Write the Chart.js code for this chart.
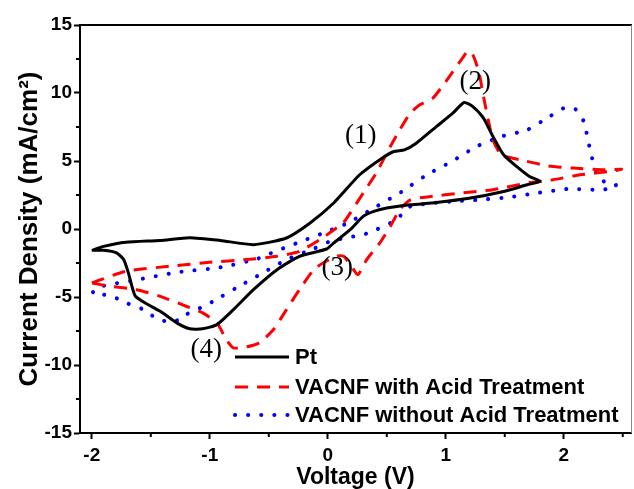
<!DOCTYPE html>
<html>
<head>
<meta charset="utf-8">
<script src="https://cdn.jsdelivr.net/npm/chart.js@4.4.1/dist/chart.umd.min.js"></script>
<style>
  html, body { margin: 0; padding: 0; background: #ffffff; }
  #wrap { width: 634px; height: 489px; }
</style>
</head>
<body>
<div id="wrap"><canvas id="c" width="634" height="489"></canvas></div>
<script>
// ---- Data (Voltage in V, Current density in mA/cm²) ----
const seriesNames = ['Pt', 'VACNF with Acid Treatment', 'VACNF without Acid Treatment'];

const ptV = [-2.0, -1.9, -1.71, -1.42, -1.17, -0.91, -0.63, -0.35, -0.15, 0.05, 0.27, 0.46, 0.56, 0.65, 0.75, 0.92, 1.06, 1.155, 1.23, 1.32, 1.40, 1.49, 1.60, 1.71, 1.80, 1.69, 1.49, 1.21, 0.92, 0.70, 0.50, 0.39, 0.30, 0.19, 0.05, -0.01, -0.24, -0.43, -0.63, -0.80, -0.94, -1.06, -1.17, -1.28, -1.42, -1.54, -1.63, -1.66, -1.69, -1.73, -1.79, -1.90, -2.0];
const ptJ = [-1.57, -1.28, -0.98, -0.84, -0.64, -0.84, -1.15, -0.66, 0.44, 1.91, 3.99, 5.21, 5.7, 5.82, 6.31, 7.53, 8.52, 9.3, 9.0, 8.15, 6.8, 5.46, 4.6, 3.86, 3.5, 3.25, 2.76, 2.28, 1.95, 1.78, 1.54, 1.29, 0.93, -0.05, -1.03, -1.47, -2.01, -2.99, -4.46, -5.93, -7.03, -7.34, -7.34, -6.9, -6.05, -5.48, -4.95, -4.21, -3.23, -2.25, -1.76, -1.57, -1.57];

const acidV = [-2.0, -1.71, -1.34, -1.0, -0.69, -0.43, -0.24, -0.07, 0.13, 0.19, 0.30, 0.41, 0.53, 0.61, 0.70, 0.78, 0.89, 0.98, 1.06, 1.14, 1.19, 1.23, 1.28, 1.32, 1.36, 1.40, 1.47, 1.63, 1.86, 2.08, 2.34, 2.49, 2.39, 2.14, 1.91, 1.69, 1.40, 1.12, 0.87, 0.70, 0.61, 0.53, 0.44, 0.33, 0.255, 0.20, 0.135, 0.07, -0.04, -0.12, -0.24, -0.35, -0.46, -0.58, -0.69, -0.80, -0.86, -0.94, -1.06, -1.20, -1.42, -1.62, -1.85, -2.0];
const acidJ = [-3.96, -3.11, -2.74, -2.45, -2.25, -2.01, -1.64, -0.79, 0.44, 1.17, 2.64, 4.11, 6.06, 7.29, 8.52, 9.13, 9.62, 10.6, 11.57, 12.55, 13.1, 12.8, 11.57, 9.74, 8.02, 6.56, 5.46, 5.09, 4.65, 4.48, 4.35, 4.4, 4.23, 3.99, 3.62, 3.38, 2.89, 2.64, 2.39, 2.15, 1.42, 0.19, -1.03, -2.25, -3.36, -2.74, -2.0, -2.0, -2.5, -2.99, -4.46, -5.93, -7.39, -8.37, -8.67, -8.74, -8.13, -6.9, -6.17, -5.68, -4.95, -4.46, -4.21, -3.96];

const noAcidV = [-1.99, -1.91, -1.64, -1.28, -0.91, -0.6, -0.49, -0.26, -0.04, 0.17, 0.39, 0.63, 0.84, 1.05, 1.26, 1.47, 1.69, 1.88, 2.0, 2.10, 2.17, 2.20, 2.23, 2.27, 2.34, 2.44, 2.44, 2.28, 2.03, 1.77, 1.55, 1.29, 1.06, 0.84, 0.70, 0.61, 0.53, 0.41, 0.30, 0.19, 0.02, -0.12, -0.35, -0.56, -0.77, -0.97, -1.08, -1.2, -1.25, -1.37, -1.48, -1.57, -1.71, -1.79, -1.90, -1.99];
const noAcidJ = [-4.65, -4.2, -3.77, -3.19, -2.82, -2.2, -1.81, -1.03, -0.3, 0.44, 1.54, 2.76, 3.99, 4.96, 6.06, 6.8, 7.29, 8.27, 8.88, 8.81, 7.9, 6.8, 5.58, 4.35, 3.5, 3.25, 3.0, 2.89, 2.94, 2.64, 2.35, 2.15, 2.03, 1.86, 1.66, 0.93, 0.44, -0.05, -0.42, -0.59, -0.91, -1.45, -2.25, -3.28, -4.3, -5.31, -5.8, -6.29, -6.66, -6.8, -6.41, -5.9, -5.43, -5.1, -4.82, -4.65];

// Peak annotations (placed in data coordinates)
const peakLabels = ['(1)', '(2)', '(3)', '(4)'];
const peakV = [0.28, 1.25, 0.08, -1.03];
const peakJ = [6.85, 10.8, -2.84, -8.86];

// Axis tick values
const xMajorTicks = [-2, -1, 0, 1, 2];
const xMinorTicks = [-1.5, -0.5, 0.5, 1.5, 2.5];
const yMinorTicks = [-12.5, -7.5, -2.5, 2.5, 7.5, 12.5];

// ---- Build chart ----
const toPts = (xs, ys) => xs.map((x, i) => ({ x: x, y: ys[i] }));

const SANS = "'Liberation Sans', Arial, 'DejaVu Sans', sans-serif";
const SERIF = "'Liberation Serif', 'Times New Roman', serif";

const minorTicksAndFrame = {
  id: 'minorTicksAndFrame',
  afterDraw(chart) {
    const ctx = chart.ctx;
    const a = chart.chartArea;
    const xs = chart.scales.x, ys = chart.scales.y;
    ctx.save();
    ctx.strokeStyle = '#000';
    ctx.lineWidth = 2;
    ctx.beginPath();
    xMinorTicks.forEach(v => {
      const px = xs.getPixelForValue(v);
      ctx.moveTo(px, a.bottom); ctx.lineTo(px, a.bottom + 4);
    });
    yMinorTicks.forEach(v => {
      const py = ys.getPixelForValue(v);
      ctx.moveTo(a.left, py); ctx.lineTo(a.left - 4, py);
    });
    ctx.stroke();
    // top frame
    ctx.beginPath();
    ctx.moveTo(a.left, a.top); ctx.lineTo(a.right + 1, a.top);
    ctx.stroke();
    // right frame (thin grey)
    ctx.strokeStyle = '#888';
    ctx.lineWidth = 1;
    ctx.beginPath();
    ctx.moveTo(a.right + 0.5, a.top); ctx.lineTo(a.right + 0.5, a.bottom);
    ctx.stroke();
    ctx.restore();
  }
};

const peakLabelPlugin = {
  id: 'peakLabelPlugin',
  afterDatasetsDraw(chart) {
    const ctx = chart.ctx;
    const xs = chart.scales.x, ys = chart.scales.y;
    ctx.save();
    ctx.font = '27px ' + SERIF;
    ctx.fillStyle = '#000';
    ctx.textAlign = 'center';
    ctx.textBaseline = 'middle';
    peakLabels.forEach((t, i) => {
      ctx.fillText(t, xs.getPixelForValue(peakV[i]), ys.getPixelForValue(peakJ[i]));
    });
    ctx.restore();
  }
};

const innerLegend = {
  id: 'innerLegend',
  afterDraw(chart) {
    const ctx = chart.ctx;
    const rows = [357, 387, 415];
    ctx.save();
    chart.data.datasets.forEach((ds, i) => {
      const y = rows[i];
      ctx.beginPath();
      ctx.strokeStyle = ds.borderColor;
      ctx.lineWidth = ds.borderWidth;
      ctx.lineCap = ds.borderCapStyle || 'butt';
      ctx.setLineDash(ds.borderDash || []);
      ctx.moveTo(235, y); ctx.lineTo(289, y);
      ctx.stroke();
      ctx.setLineDash([]);
      ctx.font = 'bold 22px ' + SANS;
      ctx.fillStyle = '#000';
      ctx.textAlign = 'left';
      ctx.textBaseline = 'middle';
      ctx.fillText(ds.label, 295, y + 1);
    });
    ctx.restore();
  }
};

new Chart(document.getElementById('c'), {
  type: 'scatter',
  data: {
    datasets: [
      {
        label: seriesNames[0],
        data: toPts(ptV, ptJ),
        showLine: true,
        borderColor: '#000000',
        borderWidth: 3,
        pointRadius: 0,
        tension: 0.2,
        fill: false
      },
      {
        label: seriesNames[1],
        data: toPts(acidV, acidJ),
        showLine: true,
        borderColor: '#ff0000',
        borderWidth: 3,
        borderDash: [13, 9],
        pointRadius: 0,
        tension: 0.2,
        fill: false
      },
      {
        label: seriesNames[2],
        data: toPts(noAcidV, noAcidJ),
        showLine: true,
        borderColor: '#0000ff',
        borderWidth: 4,
        borderDash: [0.1, 13],
        borderCapStyle: 'round',
        pointRadius: 0,
        tension: 0.2,
        fill: false
      }
    ]
  },
  options: {
    responsive: false,
    devicePixelRatio: 1,
    animation: false,
    layout: { padding: { top: 25, right: 3, left: 0, bottom: 0 } },
    plugins: {
      legend: { display: false },
      tooltip: { enabled: false }
    },
    scales: {
      x: {
        type: 'linear',
        min: -2.1,
        max: 2.57,
        afterFit: s => { s.height = 56; },
        afterBuildTicks: s => { s.ticks = xMajorTicks.map(v => ({ value: v })); },
        ticks: {
          includeBounds: false,
          font: { family: SANS, size: 19, weight: 'bold' },
          color: '#000',
          padding: 5,
          maxRotation: 0
        },
        grid: { drawOnChartArea: false, drawTicks: true, tickLength: 6, tickWidth: 2, tickColor: '#000' },
        border: { display: true, color: '#000', width: 2 },
        title: {
          display: true,
          text: 'Voltage (V)',
          color: '#000',
          font: { family: SANS, size: 23, weight: 'bold', lineHeight: 1 },
          padding: { top: 0, bottom: 0 }
        }
      },
      y: {
        type: 'linear',
        min: -15,
        max: 15,
        afterFit: s => { s.width = 80; },
        ticks: {
          stepSize: 5,
          includeBounds: false,
          font: { family: SANS, size: 19, weight: 'bold' },
          color: '#000',
          padding: 2
        },
        grid: { drawOnChartArea: false, drawTicks: true, tickLength: 6, tickWidth: 2, tickColor: '#000' },
        border: { display: true, color: '#000', width: 2 },
        title: {
          display: true,
          text: 'Current Density (mA/cm²)',
          color: '#000',
          font: { family: SANS, size: 26, weight: 'bold' },
          padding: { top: 14, bottom: 0 }
        }
      }
    }
  },
  plugins: [minorTicksAndFrame, peakLabelPlugin, innerLegend]
});
</script>
</body>
</html>
